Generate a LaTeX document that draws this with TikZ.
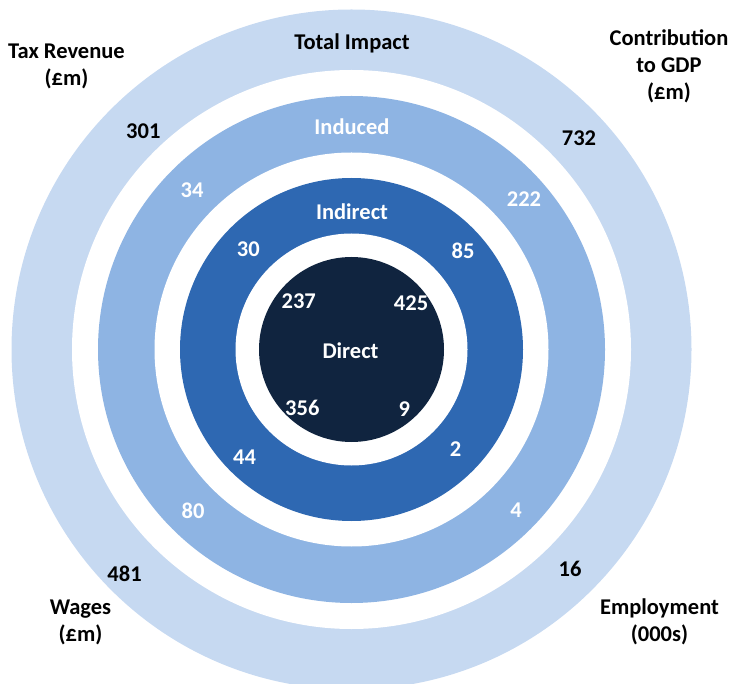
\documentclass[tikz,border=0pt]{standalone}
\usepackage{fontspec}
\setmainfont{Carlito}
\definecolor{ringA}{HTML}{C6D9F1}
\definecolor{ringB}{HTML}{8EB4E3}
\definecolor{ringC}{HTML}{2E68B2}
\definecolor{ringD}{HTML}{10243F}
\begin{document}
\begin{tikzpicture}[x=1pt,y=-1pt,
  lab/.style={font=\fontsize{22.5}{27}\selectfont\bfseries, align=center, inner sep=0pt, text=black},
  wlab/.style={lab, text=white}]
\useasboundingbox (0,0) rectangle (731,684);
\clip (0,0) rectangle (731,684);
\coordinate (c) at (351.5,349.5);
\fill[ringA] (c) circle[radius=340];
\fill[white] (c) circle[radius=279.5];
\fill[ringB] (c) circle[radius=253.5];
\fill[white] (c) circle[radius=197];
\fill[ringC] (c) circle[radius=171.5];
\fill[white] (c) circle[radius=116];
\fill[ringD] (c) circle[radius=92.5];
% outer labels
\node[lab] (total) at (352,43.5) {Total Impact};
\node[lab] (tax) at (66.5,66.5) {Tax Revenue\\(£m)};
\node[lab] (gdp) at (669,66) {Contribution\\to GDP\\(£m)};
\node[lab] (wages) at (80.5,622) {Wages\\(£m)};
\node[lab] (emp) at (659.5,621.5) {Employment\\(000s)};
\node[lab] (n301) at (143.3,131) {301};
\node[lab] (n732) at (579,138) {732};
\node[lab] (n481) at (124.6,574) {481};
\node[lab] (n16) at (570,569) {16};
% induced
\node[wlab] (induced) at (352,127) {Induced};
\node[wlab] (n34) at (192,190) {34};
\node[wlab] (n222) at (524,199) {222};
\node[wlab] (n80) at (193,510.5) {80};
\node[wlab] (n4) at (516,510.5) {4};
% indirect
\node[wlab] (indirect) at (352,211.6) {Indirect};
\node[wlab] (n30) at (248.4,249.6) {30};
\node[wlab] (n85) at (463,250.4) {85};
\node[wlab] (n44) at (244.6,457) {44};
\node[wlab] (n2) at (455.6,449.4) {2};
% direct
\node[wlab] (direct) at (350.5,351) {Direct};
\node[wlab] (n237) at (298.7,301) {237};
\node[wlab] (n425) at (411.1,303) {425};
\node[wlab] (n356) at (302.3,408) {356};
\node[wlab] (n9) at (404.3,409) {9};
\end{tikzpicture}
\end{document}
